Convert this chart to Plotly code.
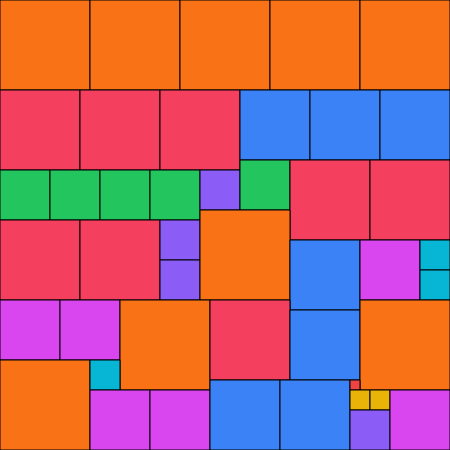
import plotly.graph_objects as go

# Partridge packing: side n appears n times (n = 1..9) in a 45 x 45 square
sides = [9, 9, 9, 9, 9,
         8, 8, 8, 7, 7, 7,
         5, 5, 5, 5, 4, 5,
         8, 8,
         8, 8, 4, 4, 9,
         7, 6, 3, 3,
         6, 6, 9, 8, 7, 9,
         9, 3, 6, 6, 7, 7,
         1, 2, 2, 4, 6]
x0 = [0, 9, 18, 27, 36,
      0, 8, 16, 24, 31, 38,
      0, 5, 10, 15, 20, 24,
      29, 37,
      0, 8, 16, 16, 20,
      29, 36, 42, 42,
      0, 6, 12, 21, 29, 36,
      0, 9, 9, 15, 21, 28,
      35, 35, 37, 35, 39]
y0 = [0, 0, 0, 0, 0,
      9, 9, 9, 9, 9, 9,
      17, 17, 17, 17, 17, 16,
      16, 16,
      22, 22, 22, 26, 21,
      24, 24, 24, 27,
      30, 30, 30, 30, 31, 30,
      36, 36, 39, 39, 38, 38,
      38, 39, 39, 41, 39]

size_colors = {1: "#ef4444", 2: "#eab308", 3: "#06b6d4", 4: "#8b5cf6",
               5: "#22c55e", 6: "#d946ef", 7: "#3b82f6", 8: "#f43f5e",
               9: "#f97316"}

fig = go.Figure()
for s, x, y in zip(sides, x0, y0):
    fig.add_trace(go.Scatter(
        x=[x, x + s, x + s, x, x],
        y=[y, y, y + s, y + s, y],
        mode="lines", fill="toself",
        fillcolor=size_colors[s],
        line=dict(color="black", width=1),
        hoverinfo="text", text=f"{s}×{s}",
        showlegend=False,
    ))

fig.update_layout(
    width=450, height=450,
    margin=dict(l=0, r=0, t=0, b=0),
    paper_bgcolor="white", plot_bgcolor="white",
    xaxis=dict(range=[0, 45], visible=False, fixedrange=True),
    yaxis=dict(range=[45, 0], visible=False, fixedrange=True),
)
fig.write_html("out.html", config={"displayModeBar": False},
               post_script="document.body.style.margin='0';")
